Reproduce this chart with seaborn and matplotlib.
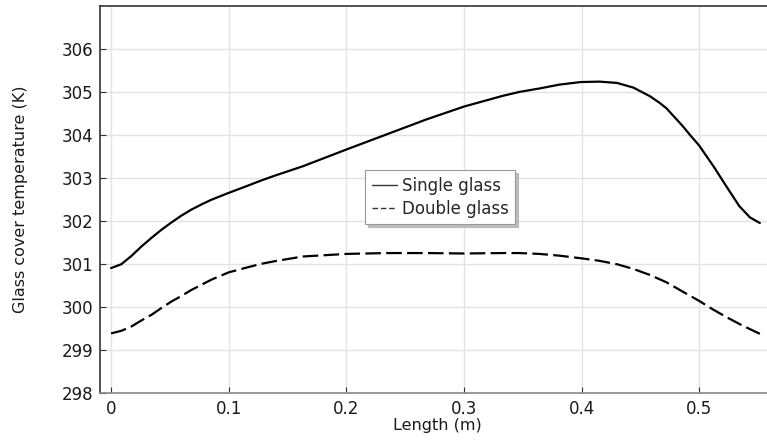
import matplotlib
matplotlib.use("Agg")
import matplotlib.pyplot as plt
from matplotlib.lines import Line2D
import seaborn as sns
import pandas as pd

# Data
length_single = [0.0, 0.0087, 0.0172, 0.0257, 0.0342, 0.0427, 0.0512, 0.0597, 0.0682, 0.0767,
                 0.0852, 0.0999, 0.1135, 0.1277, 0.139, 0.163, 0.2, 0.234, 0.268, 0.300,
                 0.333, 0.347, 0.364, 0.381, 0.399, 0.415, 0.430, 0.444, 0.458, 0.466,
                 0.472, 0.486, 0.492, 0.4996, 0.512, 0.523, 0.534, 0.543, 0.5514]
temp_single = [300.90, 300.99, 301.18, 301.40, 301.60, 301.79, 301.96, 302.12, 302.26, 302.38,
               302.49, 302.65, 302.79, 302.94, 303.05, 303.27, 303.66, 304.01, 304.36, 304.66,
               304.91, 305.00, 305.08, 305.17, 305.23, 305.24, 305.21, 305.10, 304.90, 304.75,
               304.62, 304.20, 304.00, 303.76, 303.27, 302.80, 302.34, 302.08, 301.95]

length_double = [0.0, 0.0087, 0.0172, 0.0257, 0.0342, 0.0427, 0.0512, 0.0597, 0.0682, 0.0767,
                 0.0852, 0.0999, 0.1135, 0.1277, 0.139, 0.163, 0.2, 0.234, 0.268, 0.300,
                 0.333, 0.347, 0.364, 0.381, 0.399, 0.415, 0.430, 0.444, 0.458, 0.472,
                 0.486, 0.4996, 0.512, 0.523, 0.534, 0.543, 0.5514]
temp_double = [299.38, 299.44, 299.54, 299.68, 299.81, 299.97, 300.12, 300.25, 300.39, 300.51,
               300.63, 300.80, 300.90, 301.00, 301.06, 301.17, 301.23, 301.25, 301.25, 301.24,
               301.25, 301.25, 301.23, 301.19, 301.13, 301.07, 300.99, 300.88, 300.74, 300.57,
               300.35, 300.14, 299.93, 299.76, 299.60, 299.48, 299.37]

series_names = ["Single glass", "Double glass"]
x_ticks = [0, 0.1, 0.2, 0.3, 0.4, 0.5]
x_tick_labels = ["0", "0.1", "0.2", "0.3", "0.4", "0.5"]
y_ticks = [298, 299, 300, 301, 302, 303, 304, 305, 306]

df = pd.concat([
    pd.DataFrame({"Length": length_single, "Temp": temp_single, "Series": series_names[0]}),
    pd.DataFrame({"Length": length_double, "Temp": temp_double, "Series": series_names[1]}),
], ignore_index=True)

sns.set_theme(style="whitegrid")
plt.rcParams["font.family"] = ["DejaVu Sans"]

fig = plt.figure(figsize=(7.67, 4.41), dpi=100)
ax = fig.add_axes([100/767, 1 - 392.7/441, 1 - 100/767 + 0.01, (392.7 - 6)/441])

sns.lineplot(data=df, x="Length", y="Temp", style="Series", color="black",
             dashes={"Single glass": "", "Double glass": (7.0, 2.4)},
             linewidth=1.6, ax=ax, sort=False, legend=False)

ax.set_xlim(-0.0094, 0.5640)
ax.set_ylim(298, 307.0)
ax.set_xticks(x_ticks)
ax.set_xticklabels(x_tick_labels)
ax.set_yticks(y_ticks)
ax.grid(True, color="#e3e3e3", linewidth=1.0)
ax.set_facecolor("white")

for side in ["left", "top"]:
    ax.spines[side].set_visible(True)
    ax.spines[side].set_color("#333333")
    ax.spines[side].set_linewidth(1.2)
ax.spines["bottom"].set_color("#888888")
ax.spines["bottom"].set_linewidth(1.2)
ax.spines["right"].set_visible(False)

ax.tick_params(axis="both", direction="in", length=4, width=0.8, color="#333333",
               labelsize=12, labelcolor="#1a1a1a", left=True, bottom=True, pad=5)
ax.set_xlabel("Length (m)", fontsize=11.5, color="#1a1a1a", labelpad=0)
ax.set_ylabel("Glass cover temperature (K)", fontsize=11.5, color="#1a1a1a", labelpad=24)

handles = [Line2D([], [], color="#333333", linewidth=1.0),
           Line2D([], [], color="#333333", linewidth=1.0, dashes=(4, 2))]
leg = ax.legend(handles, series_names, loc="center", bbox_to_anchor=(0.504, 0.506),
                fontsize=12, handlelength=1.5, handletextpad=0.3, fancybox=False,
                shadow={"color": "#b0b0b0", "alpha": 0.8}, framealpha=1,
                edgecolor="#999999", borderpad=0.4, labelspacing=0.3, borderaxespad=0)
leg.get_frame().set_linewidth(0.8)

fig.savefig("out.png", dpi=100)
